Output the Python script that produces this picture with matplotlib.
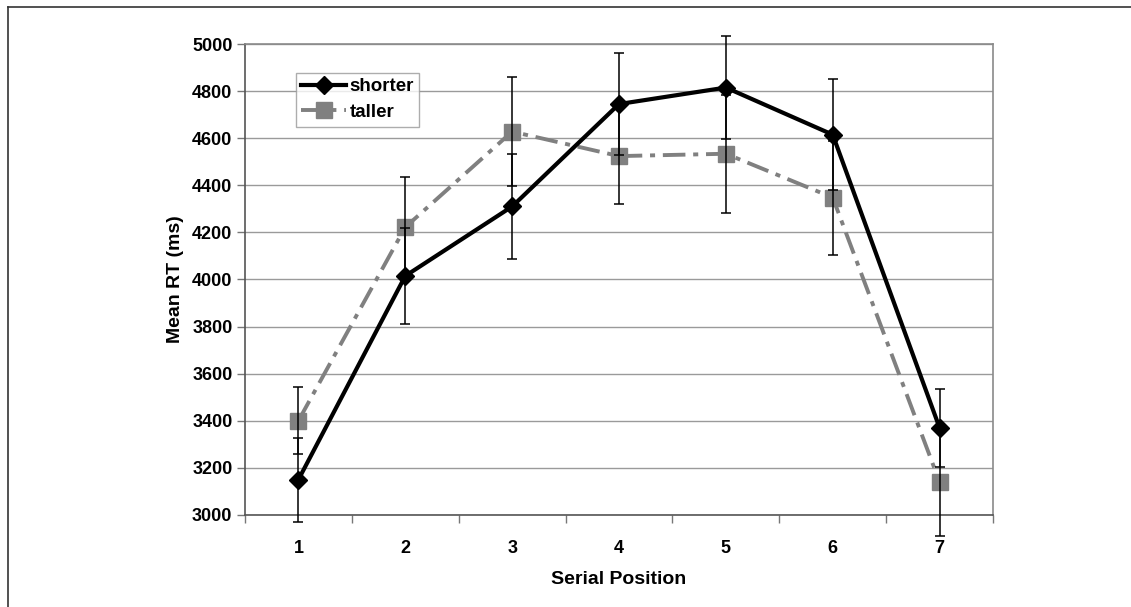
import matplotlib
matplotlib.use("Agg")
import matplotlib.pyplot as plt
from matplotlib.lines import Line2D

plt.rcParams.update({
    "font.family": ["Liberation Sans", "DejaVu Sans"],
    "font.weight": "bold",
    "font.size": 13,
})

positions = [1, 2, 3, 4, 5, 6, 7]
shorter = [3150, 4015, 4310, 4745, 4815, 4615, 3370]
shorter_err = [178, 205, 225, 215, 218, 236, 167]
taller = [3400, 4222, 4628, 4524, 4534, 4348, 3140]
taller_err = [142, 213, 231, 205, 250, 242, 231]
yticks = list(range(3000, 5001, 200))

fig = plt.figure(figsize=(11.31, 6.07), dpi=100)
ax = fig.add_axes([0.2166, 0.1516, 0.6614, 0.7759])

# outer frame (left and top edges only visible in the reference)
fig.add_artist(Line2D([8 / 1131, 8 / 1131], [0, 1 - 7 / 607], transform=fig.transFigure,
                      color="#333333", lw=1.2))
fig.add_artist(Line2D([8 / 1131, 1], [1 - 7 / 607, 1 - 7 / 607], transform=fig.transFigure,
                      color="#333333", lw=1.2))

gray = "#808080"
ax.plot(positions, taller, color=gray, lw=2.8, linestyle=(0, (5.8, 2.0, 1.3, 2.0)),
        marker="s", markersize=11, markerfacecolor=gray, markeredgecolor=gray,
        label="taller", zorder=3)
ax.plot(positions, shorter, color="black", lw=3.0, marker="D", markersize=9.5,
        label="shorter", zorder=4)
ax.errorbar(positions, taller, yerr=taller_err, fmt="none", ecolor="black",
            elinewidth=1.1, capsize=3.6, capthick=1.1, zorder=5, clip_on=False)
ax.errorbar(positions, shorter, yerr=shorter_err, fmt="none", ecolor="black",
            elinewidth=1.1, capsize=3.6, capthick=1.1, zorder=5, clip_on=False)

ax.set_xlim(0.5, 7.5)
ax.set_ylim(3000, 5000)
ax.set_yticks(yticks)
ax.set_yticklabels([str(v) for v in yticks], fontweight="bold")
ax.set_xticks(positions)
ax.set_xticklabels([str(p) for p in positions], fontweight="bold")
ax.set_xticks([p + 0.5 for p in [0] + positions], minor=True)
ax.tick_params(axis="x", which="major", length=0, pad=18)
ax.tick_params(axis="x", which="minor", length=6, width=1, color="#777777", direction="out")
ax.tick_params(axis="y", length=6, width=1, color="#777777", direction="out", pad=3)

ax.grid(axis="y", color="#9a9a9a", lw=1.0)
ax.set_axisbelow(True)
for side in ["left", "bottom"]:
    ax.spines[side].set_color("#555555")
    ax.spines[side].set_linewidth(1.2)
for side in ["top", "right"]:
    ax.spines[side].set_color("#8a8a8a")
    ax.spines[side].set_linewidth(1.2)

ax.set_xlabel("Serial Position", fontsize=14, fontweight="bold", labelpad=10)
ax.set_ylabel("Mean RT (ms)", fontsize=14, fontweight="bold", labelpad=6)

handles, labels = ax.get_legend_handles_labels()
leg = ax.legend(handles[::-1], labels[::-1], loc="upper left",
                bbox_to_anchor=(0.068, 0.939), frameon=True, fancybox=False,
                handlelength=2.4, handletextpad=0.15, borderpad=0.3,
                labelspacing=0.45, borderaxespad=0,
                prop={"weight": "bold", "size": 13.5})
leg.get_frame().set_edgecolor("#999999")
leg.get_frame().set_linewidth(1.0)

fig.savefig("out.png", dpi=100)
